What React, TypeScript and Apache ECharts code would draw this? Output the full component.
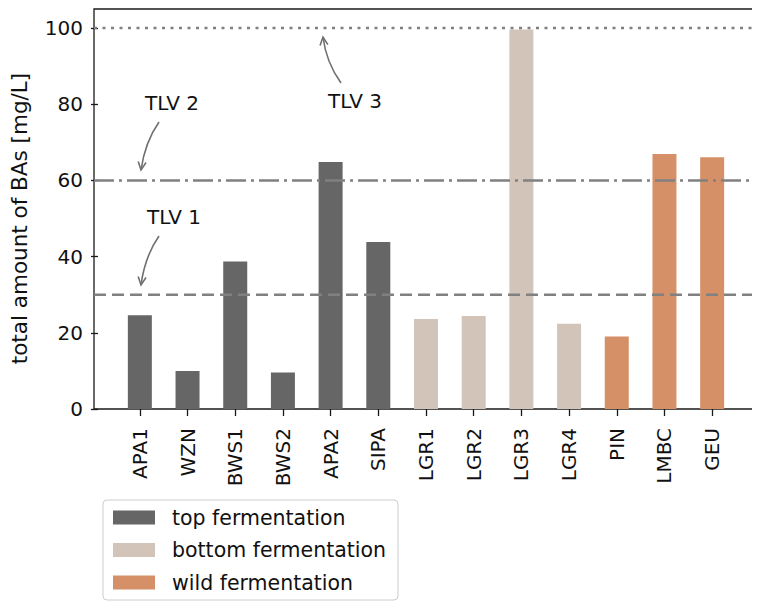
import React, { useEffect, useRef } from "react";
import * as echarts from "echarts";

const categories = ["APA1", "WZN", "BWS1", "BWS2", "APA2", "SIPA", "LGR1", "LGR2", "LGR3", "LGR4", "PIN", "LMBC", "GEU"];
const topFermentation = [24.6, 10.0, 38.7, 9.6, 64.8, 43.8, "-", "-", "-", "-", "-", "-", "-"];
const bottomFermentation = ["-", "-", "-", "-", "-", "-", 23.6, 24.4, 99.6, 22.4, "-", "-", "-"];
const wildFermentation = ["-", "-", "-", "-", "-", "-", "-", "-", "-", "-", 19.0, 66.9, 66.1];
const seriesNames = ["top fermentation", "bottom fermentation", "wild fermentation"];
const thresholds = [30, 60, 100];
const thresholdLabels = ["TLV 1", "TLV 2", "TLV 3"];
const yTicks = [0, 20, 40, 60, 80, 100];

const FONT = "DejaVu Sans";
const FS = 20;
const COLORS = ["#666666", "#d3c4ba", "#d69067"];
const LINE_GRAY = "#808080";

function arrow(sx: number, sy: number, cx: number, cy: number, ex: number, ey: number) {
  const dx = ex - cx;
  const dy = ey - cy;
  const len = Math.sqrt(dx * dx + dy * dy);
  const ux = dx / len;
  const uy = dy / len;
  const L = 9;
  const a = (26 * Math.PI) / 180;
  const rot = (ang: number) => [
    ex - L * (ux * Math.cos(ang) - uy * Math.sin(ang)),
    ey - L * (ux * Math.sin(ang) + uy * Math.cos(ang)),
  ];
  const p1 = rot(a);
  const p2 = rot(-a);
  const style = { stroke: "#707070", lineWidth: 1.6, fill: null };
  return [
    { type: "bezierCurve", shape: { x1: sx, y1: sy, x2: ex, y2: ey, cpx1: cx, cpy1: cy }, style },
    { type: "polyline", shape: { points: [p1, [ex, ey], p2] }, style },
  ];
}

export default function App() {
  const ref = useRef<HTMLDivElement>(null);
  useEffect(() => {
    if (!ref.current) return;
    const chart = echarts.init(ref.current, null, { renderer: "svg" });
    const lineTypes: any[] = [[12, 6], [20, 5, 3, 5], [3, 5.5]];
    const option: any = {
      animation: false,
      textStyle: { fontFamily: FONT },
      grid: [
        { left: 94, top: 9, width: 660, height: 400, show: true, borderColor: "#1a1a1a", borderWidth: 1.3, backgroundColor: "transparent" },
        { left: 112, top: 28, width: 624, height: 381 },
      ],
      xAxis: [
        { type: "value", gridIndex: 0, min: 0, max: 1, show: false },
        {
          type: "category",
          gridIndex: 1,
          data: categories,
          axisLine: { show: false },
          axisTick: { show: true, alignWithLabel: true, length: 7, lineStyle: { color: "#1a1a1a", width: 1.3 } },
          axisLabel: { rotate: 90, margin: 19, fontSize: FS, color: "#111", fontFamily: FONT },
        },
      ],
      yAxis: [
        { type: "value", gridIndex: 0, min: 0, max: 105, show: false },
        {
          type: "value",
          gridIndex: 1,
          min: 0,
          max: 100,
          interval: 20,
          offset: 18,
          axisLine: { show: false },
          splitLine: { show: false },
          axisTick: { show: true, length: 7, lineStyle: { color: "#1a1a1a", width: 1.3 } },
          axisLabel: { margin: 15, fontSize: FS, color: "#111", fontFamily: FONT, formatter: (v: number) => (yTicks.includes(v) ? String(v) : "") },
          name: "total amount of BAs [mg/L]",
          nameLocation: "middle",
          nameRotate: 90,
          nameGap: 68,
          nameTextStyle: { fontSize: 21.5, color: "#111", fontFamily: FONT },
        },
      ],
      legend: {
        data: seriesNames,
        orient: "vertical",
        left: 103,
        top: 500,
        icon: "rect",
        itemWidth: 42,
        itemHeight: 14,
        itemGap: 11.5,
        padding: [7, 12, 7, 10],
        borderColor: "#cccccc",
        borderWidth: 1,
        borderRadius: 4,
        textStyle: { fontSize: 20.5, color: "#111", fontFamily: FONT, padding: [0, 0, 0, 12] },
      },
      series: [
        ...[topFermentation, bottomFermentation, wildFermentation].map((d, i) => ({
          type: "bar",
          name: seriesNames[i],
          xAxisIndex: 1,
          yAxisIndex: 1,
          stack: "total",
          barWidth: 24,
          data: d,
          itemStyle: { color: COLORS[i] },
        })),
        ...thresholds.map((t, i) => ({
          type: "line",
          name: thresholdLabels[i],
          xAxisIndex: 0,
          yAxisIndex: 0,
          data: [[0, t], [1, t]],
          symbol: "none",
          silent: true,
          z: 5,
          lineStyle: { color: LINE_GRAY, width: 2.5, type: lineTypes[i] },
        })),
      ],
      graphic: [
        { type: "text", x: 145, y: 103, style: { text: "TLV 2", fontSize: FS, fontFamily: FONT, fill: "#111", verticalAlign: "middle" } },
        { type: "text", x: 147, y: 217, style: { text: "TLV 1", fontSize: FS, fontFamily: FONT, fill: "#111", verticalAlign: "middle" } },
        { type: "text", x: 328, y: 101, style: { text: "TLV 3", fontSize: FS, fontFamily: FONT, fill: "#111", verticalAlign: "middle" } },
        ...arrow(159, 122, 145, 142, 141, 170),
        ...arrow(159, 236, 145, 256, 141, 285),
        ...arrow(341, 83, 326, 62, 323, 37),
      ],
    };
    chart.setOption(option);
    return () => chart.dispose();
  }, []);
  return <div ref={ref} style={{ width: 760, height: 610, marginLeft: -8, marginTop: -8 }} />;
}
